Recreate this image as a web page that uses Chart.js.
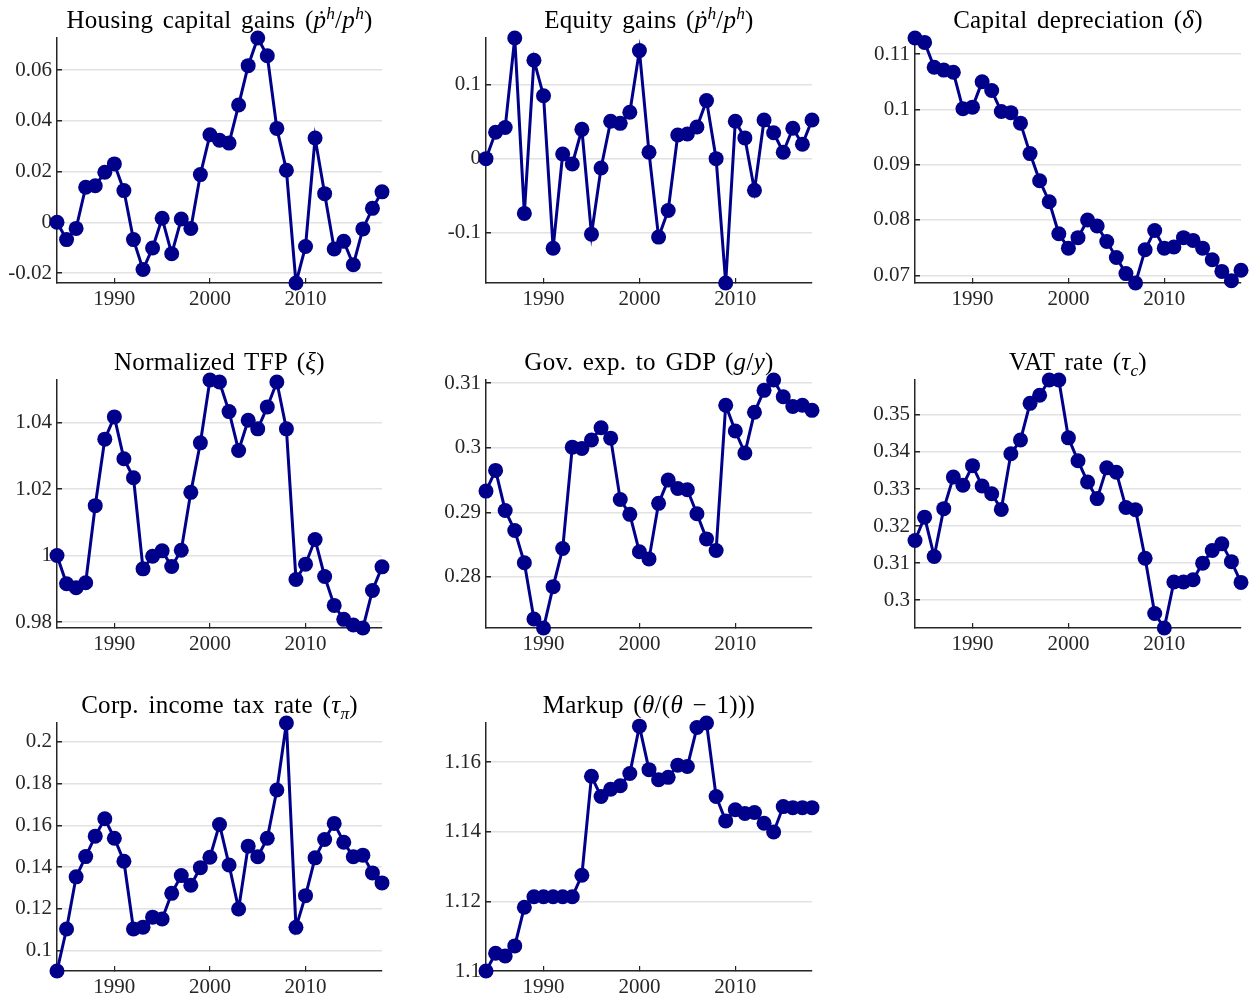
<!DOCTYPE html>
<html>
<head>
<meta charset="utf-8">
<script src="https://cdn.jsdelivr.net/npm/chart.js@4.4.1/dist/chart.umd.min.js"></script>
<style>
  html, body { margin: 0; padding: 0; background: #fff; overflow: hidden; }
  #page { position: relative; width: 1250px; height: 1002px; overflow: hidden; }
  #page canvas { position: absolute; }
  .ttl { position: absolute; text-align: center; font-family: 'Liberation Serif', serif; font-size: 25px;
         line-height: 25px; letter-spacing: 0.3px; word-spacing: 3px; color: #000; white-space: nowrap; z-index: 2; }
  .ttl sup, .ttl sub { line-height: 0; font-size: 70%; letter-spacing: 0; }
</style>
</head>
<body>
<div id="page"></div>
<script>
// --- Data ---
const years = [1984, 1985, 1986, 1987, 1988, 1989, 1990, 1991, 1992, 1993, 1994, 1995,
    1996, 1997, 1998, 1999, 2000, 2001, 2002, 2003, 2004, 2005, 2006, 2007, 2008, 2009,
    2010, 2011, 2012, 2013, 2014, 2015, 2016, 2017, 2018];
const xTicks = [1990, 2000, 2010];

const housingGains = [0, -0.0068, -0.0024, 0.0138, 0.0144, 0.0197, 0.023, 0.0125, -0.0068, -0.0186,
    -0.0101, 0.0016, -0.0124, 0.0013, -0.0024, 0.0188, 0.0345, 0.0323, 0.0312, 0.0462, 0.0617,
    0.0726, 0.0656, 0.037, 0.0205, -0.0239, -0.0095, 0.0332, 0.0113, -0.0105, -0.0075, -0.0167,
    -0.0026, 0.0055, 0.012];
const housingTicks = [-0.02, 0, 0.02, 0.04, 0.06];

const equityGains = [0, 0.0356, 0.042, 0.163, -0.074, 0.133, 0.085, -0.121, 0.0063, -0.0072,
    0.0396, -0.102, -0.0126, 0.0505, 0.0477, 0.0626, 0.146, 0.0086, -0.106, -0.070, 0.032,
    0.0333, 0.0428, 0.0784, 0, -0.168, 0.0505, 0.028, -0.0428, 0.0523, 0.035, 0.0086,
    0.041, 0.0194, 0.0523];
const equityTicks = [-0.1, 0, 0.1];

const capitalDepreciation = [0.1129, 0.1121, 0.1076, 0.1071, 0.1067, 0.1001, 0.1004, 0.1050,
    0.1034, 0.0996, 0.0994, 0.0975, 0.0920, 0.0871, 0.0833, 0.0775, 0.0749, 0.0768, 0.0800,
    0.0789, 0.0761, 0.0732, 0.0703, 0.0686, 0.0746, 0.0781, 0.0749, 0.0751, 0.0768, 0.0763,
    0.0749, 0.0728, 0.0707, 0.0690, 0.0709];
const depreciationTicks = [0.07, 0.08, 0.09, 0.1, 0.11];

const normalizedTfp = [1.0, 0.9915, 0.9903, 0.9918, 1.015, 1.035, 1.0417, 1.0291, 1.0234, 0.996,
    0.9998, 1.0014, 0.9967, 1.0016, 1.019, 1.0339, 1.0528, 1.0522, 1.0433, 1.0316, 1.0407,
    1.0381, 1.0447, 1.0522, 1.0381, 0.9928, 0.9974, 1.0048, 0.9937, 0.985, 0.9808, 0.9791,
    0.9782, 0.9895, 0.9966];
const tfpTicks = [0.98, 1, 1.02, 1.04];

const govExpToGdp = [0.2933, 0.2965, 0.2903, 0.2872, 0.2822, 0.2735, 0.2721, 0.2785, 0.2844,
    0.3001, 0.2999, 0.3012, 0.3031, 0.3015, 0.2920, 0.2897, 0.2839, 0.2828, 0.2914, 0.2950,
    0.2937, 0.2935, 0.2898, 0.2859, 0.2841, 0.3066, 0.3026, 0.2992, 0.3055, 0.3089, 0.3105,
    0.3079, 0.3064, 0.3066, 0.3058];
const govTicks = [0.28, 0.29, 0.3, 0.31];

const vatRate = [0.3161, 0.3224, 0.3118, 0.3247, 0.3332, 0.3310, 0.3363, 0.3308, 0.3287, 0.3245,
    0.3395, 0.3432, 0.3531, 0.3553, 0.3594, 0.3594, 0.3438, 0.3376, 0.3319, 0.3274, 0.3357,
    0.3345, 0.3250, 0.3244, 0.3113, 0.2964, 0.2925, 0.3049, 0.3049, 0.3055, 0.3100, 0.3134,
    0.3152, 0.3104, 0.3048];
const vatTicks = [0.3, 0.31, 0.32, 0.33, 0.34, 0.35];

const corpTaxRate = [0.0902, 0.1103, 0.1353, 0.1450, 0.1548, 0.1631, 0.1538, 0.1428, 0.1103,
    0.1112, 0.1160, 0.1151, 0.1274, 0.1359, 0.1313, 0.1397, 0.1447, 0.1604, 0.1410, 0.1199,
    0.1500, 0.1449, 0.1538, 0.1769, 0.2090, 0.1111, 0.1263, 0.1444, 0.1532, 0.1609, 0.1519,
    0.1449, 0.1457, 0.1372, 0.1324];
const corpTicks = [0.1, 0.12, 0.14, 0.16, 0.18, 0.2];

const markup = [1.1, 1.1051, 1.1043, 1.1072, 1.1183, 1.1213, 1.1213, 1.1213, 1.1213, 1.1213,
    1.1275, 1.1559, 1.1501, 1.1522, 1.1532, 1.1567, 1.1703, 1.1578, 1.1549, 1.1556, 1.1591,
    1.1587, 1.1699, 1.1712, 1.1501, 1.1431, 1.1463, 1.1452, 1.1455, 1.1424, 1.1399, 1.1472,
    1.1469, 1.1469, 1.1469];
const markupTicks = [1.1, 1.12, 1.14, 1.16];

// --- Panels: title, series, y ticks, plot box [left, top, width, height] ---
const panels = [
    { title: 'Housing capital gains (<i>ṗ</i><sup><i>h</i></sup>/<i>p</i><sup><i>h</i></sup>)',
      values: housingGains, ticks: housingTicks, box: [57, 38, 325, 245] },
    { title: 'Equity gains (<i>ṗ</i><sup><i>h</i></sup>/<i>p</i><sup><i>h</i></sup>)',
      values: equityGains, ticks: equityTicks, box: [486, 38, 326, 245] },
    { title: 'Capital depreciation (<i>δ</i>)',
      values: capitalDepreciation, ticks: depreciationTicks, box: [915, 38, 326, 245] },
    { title: 'Normalized TFP (<i>ξ</i>)',
      values: normalizedTfp, ticks: tfpTicks, box: [57, 380, 325, 248] },
    { title: 'Gov. exp. to GDP (<i>g</i>/<i>y</i>)',
      values: govExpToGdp, ticks: govTicks, box: [486, 380, 326, 248] },
    { title: 'VAT rate (<i>τ</i><sub><i>c</i></sub>)',
      values: vatRate, ticks: vatTicks, box: [915, 380, 326, 248] },
    { title: 'Corp. income tax rate (<i>τ</i><sub><i>π</i></sub>)',
      values: corpTaxRate, ticks: corpTicks, box: [57, 723, 325, 248] },
    { title: 'Markup (<i>θ</i>/(<i>θ</i> − 1)))',
      values: markup, ticks: markupTicks, box: [486, 723, 326, 248] }
];

const navy = '#00008B';
const axisColor = '#262626';
const gridColor = '#e2e2e2';
const tickFont = { family: "'Liberation Serif', serif", size: 21 };

// room around each plot area inside its canvas
const PAD_L = 56, PAD_T = 10, PAD_R = 9, PAD_B = 40;

function drawPanel(p) {
    const page = document.getElementById('page');
    const [left, top, w, h] = p.box;

    const title = document.createElement('div');
    title.className = 'ttl';
    title.style.left = left + 'px';
    title.style.width = w + 'px';
    title.style.top = (top - 31) + 'px';
    title.innerHTML = p.title;
    page.appendChild(title);

    const canvas = document.createElement('canvas');
    canvas.width = w + PAD_L + PAD_R;
    canvas.height = h + PAD_T + PAD_B;
    canvas.style.left = (left - PAD_L) + 'px';
    canvas.style.top = (top - PAD_T) + 'px';
    page.appendChild(canvas);

    new Chart(canvas, {
        type: 'line',
        data: {
            datasets: [{
                data: years.map((yr, i) => ({ x: yr, y: p.values[i] })),
                borderColor: navy,
                backgroundColor: navy,
                pointBackgroundColor: navy,
                borderWidth: 3,
                pointRadius: 7.5,
                pointBorderWidth: 0,
                tension: 0,
                clip: false
            }]
        },
        options: {
            responsive: false,
            animation: false,
            devicePixelRatio: 1,
            layout: { autoPadding: false, padding: { left: 0, top: PAD_T, right: PAD_R, bottom: 0 } },
            plugins: { legend: { display: false }, tooltip: { enabled: false } },
            scales: {
                x: {
                    type: 'linear',
                    min: years[0],
                    max: years[years.length - 1],
                    afterBuildTicks: s => { s.ticks = xTicks.map(v => ({ value: v })); },
                    afterFit: s => { s.height = PAD_B; s.paddingLeft = 0; s.paddingRight = 0; },
                    grid: { drawOnChartArea: false, drawTicks: true, tickLength: -5, tickColor: axisColor, lineWidth: 1.2 },
                    border: { display: true, color: axisColor, width: 1.5 },
                    ticks: { font: tickFont, color: axisColor, padding: 9, maxRotation: 0, callback: v => String(v) }
                },
                y: {
                    min: Math.min(...p.values),
                    max: Math.max(...p.values),
                    afterBuildTicks: s => { s.ticks = p.ticks.map(v => ({ value: v })); },
                    afterFit: s => { s.width = PAD_L; s.paddingTop = 0; s.paddingBottom = 0; },
                    grid: { color: gridColor, lineWidth: 1.5, drawTicks: true, tickLength: -5, tickColor: axisColor },
                    border: { display: true, color: axisColor, width: 1.5 },
                    ticks: { font: tickFont, color: axisColor, padding: 10, callback: v => String(+v.toFixed(4)) }
                }
            }
        }
    });
}

panels.forEach(drawPanel);
</script>
</body>
</html>
